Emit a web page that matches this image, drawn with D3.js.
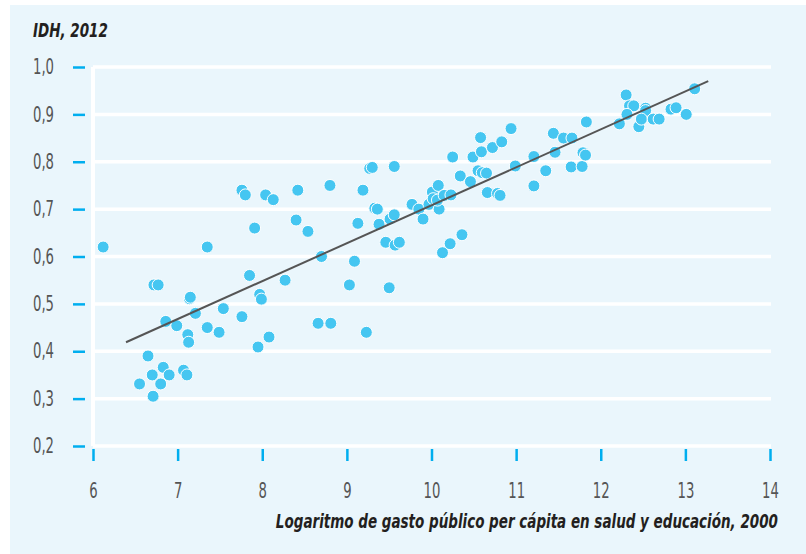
<!DOCTYPE html>
<html>
<head>
<meta charset="utf-8">
<script src="https://cdn.jsdelivr.net/npm/d3@7"></script>
<style>
  body { margin: 0; background: #fff; }
  #chart { width: 806px; height: 554px; }
  .chart-text { font-family: "Liberation Sans Narrow", "DejaVu Sans Condensed", sans-serif; font-stretch: condensed; }
  .tick-label { fill: #555; font-size: 21px; }
  .axis-title { fill: #231f20; font-size: 19px; font-weight: bold; font-style: italic; }
</style>
</head>
<body>
<div id="chart"></div>
<script>
// Log of public spending per capita on health and education (2000)
const gasto = [
  6.12, 7.35, 6.72, 6.77, 7.14, 7.15, 6.86, 6.99, 7.21, 7.12,
  7.13, 7.35, 7.49, 7.54, 7.76, 7.85, 7.97, 7.99, 8.08, 7.95,
  8.27, 7.91, 8.40, 8.54, 8.70, 8.66, 8.81, 9.03, 9.09, 9.13,
  6.65, 6.70, 6.83, 6.90, 6.55, 6.80, 6.71, 7.07, 7.11, 7.76,
  7.80, 8.04, 8.13, 8.42, 8.80, 9.19, 9.27, 9.30, 9.56, 9.33,
  9.36, 9.38, 9.50, 9.46, 9.51, 9.56, 9.57, 9.62, 9.77, 9.85,
  9.90, 9.97, 10.01, 10.02, 10.08, 10.09, 10.07, 10.15, 10.23, 10.13,
  10.22, 10.36, 10.25, 10.34, 10.46, 10.49, 10.55, 10.60, 10.65, 10.58,
  10.59, 10.72, 10.83, 10.94, 10.66, 10.78, 10.81, 10.99, 11.21, 11.21,
  11.35, 11.44, 11.46, 11.56, 11.66, 11.65, 11.78, 11.79, 11.82, 11.83,
  12.22, 12.30, 12.34, 12.39, 12.31, 12.53, 12.53, 12.45, 12.48, 12.62,
  12.69, 12.83, 12.89, 13.01, 13.11, 9.23
];

// IDH 2012
const idh = [
  0.620, 0.620, 0.540, 0.540, 0.511, 0.514, 0.463, 0.454, 0.480, 0.435,
  0.419, 0.450, 0.440, 0.490, 0.473, 0.560, 0.520, 0.510, 0.430, 0.409,
  0.550, 0.660, 0.677, 0.653, 0.600, 0.459, 0.459, 0.540, 0.590, 0.670,
  0.390, 0.350, 0.366, 0.350, 0.331, 0.331, 0.305, 0.360, 0.350, 0.740,
  0.730, 0.730, 0.720, 0.740, 0.750, 0.740, 0.786, 0.788, 0.790, 0.702,
  0.700, 0.668, 0.534, 0.630, 0.679, 0.688, 0.624, 0.630, 0.710, 0.700,
  0.679, 0.710, 0.736, 0.722, 0.750, 0.700, 0.719, 0.729, 0.730, 0.608,
  0.627, 0.646, 0.810, 0.770, 0.758, 0.810, 0.781, 0.777, 0.776, 0.851,
  0.821, 0.830, 0.842, 0.870, 0.735, 0.733, 0.729, 0.791, 0.749, 0.811,
  0.781, 0.860, 0.820, 0.850, 0.850, 0.789, 0.790, 0.819, 0.814, 0.884,
  0.880, 0.941, 0.918, 0.918, 0.900, 0.913, 0.908, 0.874, 0.890, 0.890,
  0.890, 0.911, 0.914, 0.900, 0.954, 0.440
];

// fitted trend line, start and end
const trendX = [6.39, 13.27];
const trendY = [0.419, 0.970];

const xTicks = [6, 7, 8, 9, 10, 11, 12, 13, 14];
const yTicks = [0.2, 0.3, 0.4, 0.5, 0.6, 0.7, 0.8, 0.9, 1.0];

const titleY = 'IDH, 2012';
const titleX = 'Logaritmo de gasto público per cápita en salud y educación, 2000';

const width = 806, height = 554;
const plot = {left: 93, right: 770, top: 67, bottom: 446};

const svg = d3.select('#chart').append('svg')
  .attr('width', width)
  .attr('height', height);

// panel background
svg.append('rect')
  .attr('x', 10).attr('y', 5)
  .attr('width', width - 10).attr('height', height - 5)
  .attr('fill', '#eaf6fc');

const x = d3.scaleLinear().domain([6, 14]).range([plot.left, plot.right]);
const y = d3.scaleLinear().domain([0.2, 1.0]).range([plot.bottom, plot.top]);

const fmt = d => d3.format('.1f')(d).replace('.', ',');

/** the original uses a condensed face, so squeeze the fallback glyphs around their anchor */
function squeeze(sel, k) {
  sel.attr('transform', function() {
    const tx = +this.getAttribute('x') || 0;
    return `translate(${tx * (1 - k)},0) scale(${k},1)`;
  });
}

// white horizontal grid lines
svg.append('g')
  .selectAll('line')
  .data(yTicks)
  .join('line')
  .attr('x1', plot.left).attr('x2', plot.right + 1)
  .attr('y1', d => y(d)).attr('y2', d => y(d))
  .attr('stroke', '#fff')
  .attr('stroke-width', 3.5);

// white vertical axis line
svg.append('line')
  .attr('x1', plot.left).attr('x2', plot.left)
  .attr('y1', plot.top).attr('y2', plot.bottom)
  .attr('stroke', '#fff')
  .attr('stroke-width', 4);

// y axis: cyan dashes and labels
const yAxis = svg.append('g')
  .attr('class', 'chart-text')
  .attr('transform', `translate(${plot.left - 8}, 0)`)
  .call(d3.axisLeft(y).tickValues(yTicks).tickFormat(fmt).tickSize(12).tickPadding(19));
yAxis.select('.domain').remove();
yAxis.selectAll('.tick line').attr('stroke', '#00aeef').attr('stroke-width', 2.5);
yAxis.selectAll('.tick text').attr('class', 'tick-label').attr('font-family', null).attr('font-size', null);
squeeze(yAxis.selectAll('.tick text'), 0.7);

// x axis: cyan ticks and labels
const xAxis = svg.append('g')
  .attr('class', 'chart-text')
  .attr('transform', `translate(0, ${plot.bottom + 3})`)
  .call(d3.axisBottom(x).tickValues(xTicks).tickFormat(d3.format('d')).tickSize(12).tickPadding(22));
xAxis.select('.domain').remove();
xAxis.selectAll('.tick line').attr('stroke', '#00aeef').attr('stroke-width', 2.5);
xAxis.selectAll('.tick text').attr('class', 'tick-label').attr('font-family', null).attr('font-size', null);
squeeze(xAxis.selectAll('.tick text'), 0.7);

// points
const pts = gasto.map((g, i) => [g, idh[i]]);
svg.append('g')
  .selectAll('circle')
  .data(pts)
  .join('circle')
  .attr('cx', d => x(d[0]))
  .attr('cy', d => y(d[1]))
  .attr('r', 6)
  .attr('fill', '#45c6f1')
  .attr('stroke', '#fff')
  .attr('stroke-width', 1);

// trend line
svg.append('path')
  .datum(trendX.map((v, i) => [v, trendY[i]]))
  .attr('d', d3.line().x(d => x(d[0])).y(d => y(d[1])))
  .attr('fill', 'none')
  .attr('stroke', '#555')
  .attr('stroke-width', 2);

// axis titles
const t1 = svg.append('text')
  .attr('class', 'chart-text axis-title')
  .attr('x', 33).attr('y', 37)
  .text(titleY);
squeeze(t1, 0.79);

const t2 = svg.append('text')
  .attr('class', 'chart-text axis-title')
  .attr('x', 778).attr('y', 528)
  .attr('text-anchor', 'end')
  .text(titleX);
squeeze(t2, 0.79);
</script>
</body>
</html>
